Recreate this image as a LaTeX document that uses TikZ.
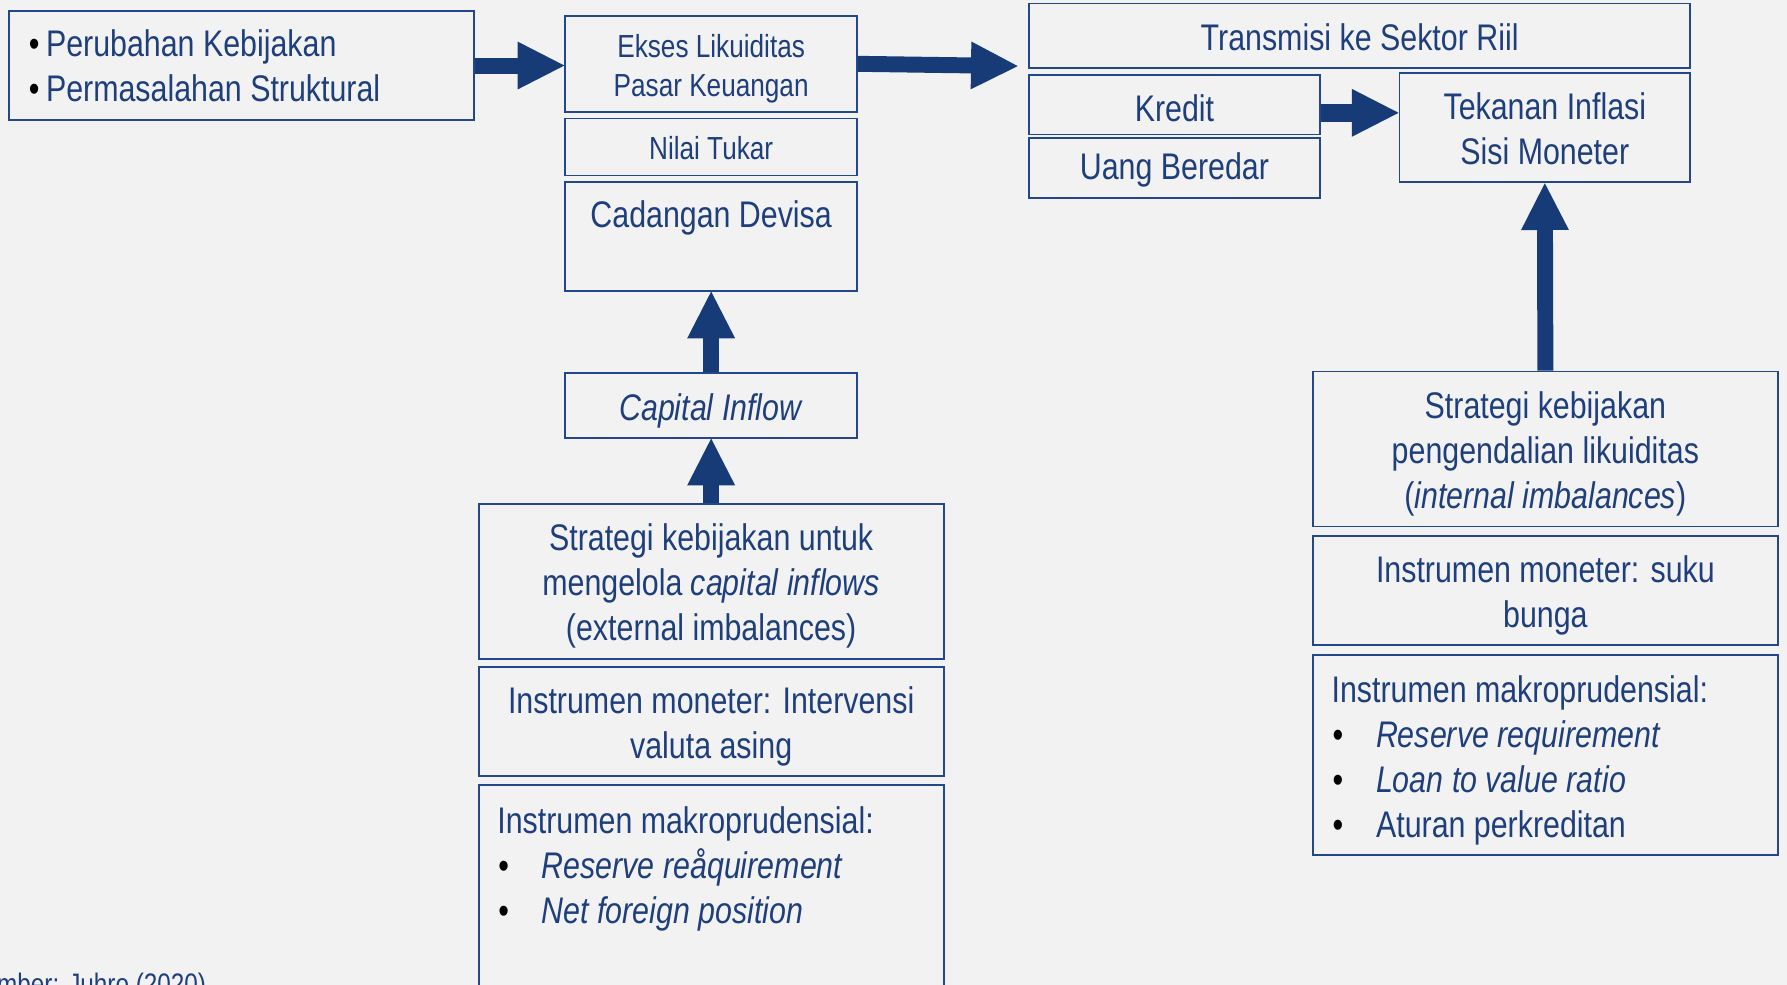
\documentclass[tikz,border=0pt]{standalone}
\usepackage{fontspec}
\setmainfont{Liberation Sans}[FakeStretch=0.82]
\usetikzlibrary{arrows.meta,calc}

\definecolor{bg}{HTML}{F2F2F2}
\definecolor{navy}{HTML}{173B77}
\definecolor{frame}{HTML}{22478A}
\definecolor{ink}{HTML}{1E3F7C}

% bullets: short one for the top-left box, wide one for the instrument lists
\newcommand{\dotA}{\makebox[15pt][l]{\textcolor{black}{\textbullet}}}
\newcommand{\dotB}{\makebox[39pt][l]{\hspace{1pt}\textcolor{black}{\textbullet}}}

\tikzset{
  panel/.style={draw=frame, line width=1.6pt, inner sep=0pt},
  big/.style={font=\fontsize{32.5}{39.5}\selectfont},
  small/.style={font=\fontsize{28}{34}\selectfont},
  label/.style={text=ink, inner sep=0pt, align=center},
  flow/.style={draw=navy, line width=14pt,
    -{Triangle[width=42pt,length=41pt,line width=0pt]}},
}

\begin{document}
\begin{tikzpicture}[x=1pt,y=-1pt]
  \useasboundingbox (0,0) rectangle (1568,864);
  \clip (0,0) rectangle (1568,864);
  \fill[bg] (0,0) rectangle (1568,864);

  % sources of the shock
  \node[panel, minimum width=408pt, minimum height=95pt] (A) at (212,57.5) {};
  \node[label, big, align=left, anchor=west] (At) at ([xshift=18pt]A.west)
    {\dotA Perubahan Kebijakan\\ \dotA Permasalahan Struktural};

  % financial market column
  \node[panel, minimum width=256pt, minimum height=84pt] (B1) at (624,56) {};
  \node[label, small] (B1t) at ([yshift=-4pt]B1.center) {Ekses Likuiditas\\ Pasar Keuangan};
  \node[panel, minimum width=256pt, minimum height=50pt] (B2) at (624,129) {};
  \node[label, small] (B2t) at ([yshift=-1pt]B2.center) {Nilai Tukar};
  \node[panel, minimum width=256pt, minimum height=95pt] (B3) at (624,207.5) {};
  \node[label, big] (B3t) at ([yshift=-32pt]B3.north) {Cadangan Devisa};

  % transmission to the real sector
  \node[panel, minimum width=580pt, minimum height=57pt] (C) at (1193,31.5) {};
  \node[label, big] (Ct) at ([yshift=-1pt]C.center) {Transmisi ke Sektor Riil};
  \node[panel, minimum width=255pt, minimum height=52pt] (D1) at (1030.5,92) {};
  \node[label, big] (D1t) at ([yshift=-3pt]D1.center) {Kredit};
  \node[panel, minimum width=255pt, minimum height=53pt] (D2) at (1030.5,147.5) {};
  \node[label, big] (D2t) at ([yshift=-2pt]D2.center) {Uang Beredar};
  \node[panel, minimum width=255pt, minimum height=96pt] (E) at (1355.5,112) {};
  \node[label, big] (Et) at ([yshift=-1pt]E.center) {Tekanan Inflasi\\ Sisi Moneter};

  % internal imbalances policy
  \node[panel, minimum width=408pt, minimum height=136pt] (F) at (1356,394) {};
  \node[label, big] (Ft) at ([yshift=-4.5pt]F.center)
    {Strategi kebijakan\\ pengendalian likuiditas\\ (\textit{internal imbalances})};
  \node[panel, minimum width=408pt, minimum height=96pt] (G) at (1356,518) {};
  \node[label, big] (Gt) at ([yshift=-4.5pt]G.center) {Instrumen moneter: suku\\ bunga};
  \node[panel, minimum width=408pt, minimum height=175pt] (H) at (1356,662.5) {};
  \node[label, big, align=left, anchor=north west] (Ht) at ([xshift=17pt,yshift=-18.5pt]H.north west)
    {Instrumen makroprudensial:\\
     \dotB\textit{Reserve requirement}\\
     \dotB\textit{Loan to value ratio}\\
     \dotB Aturan perkreditan};

  % external imbalances policy
  \node[panel, minimum width=256pt, minimum height=57pt] (I) at (624,355.5) {};
  \node[label, big] (It) at ([yshift=-5pt]I.center) {\textit{Capital Inflow}};
  \node[panel, minimum width=408pt, minimum height=136pt] (J) at (624,510) {};
  \node[label, big] (Jt) at ([yshift=-4pt]J.center)
    {Strategi kebijakan untuk\\ mengelola \textit{capital inflows}\\ (external imbalances)};
  \node[panel, minimum width=408pt, minimum height=96pt] (K) at (624,633) {};
  \node[label, big] (Kt) at ([yshift=-4pt]K.center) {Instrumen moneter: Intervensi\\ valuta asing};
  \node[panel, minimum width=408pt, minimum height=211pt] (L) at (624,794.5) {};
  \node[label, big, align=left, anchor=north west] (Lt) at ([xshift=17pt,yshift=-19pt]L.north west)
    {Instrumen makroprudensial:\\
     \dotB\textit{Reserve reåquirement}\\
     \dotB\textit{Net foreign position}};

  % source note
  \node[label, font=\fontsize{26}{30}\selectfont, anchor=base east] (src) at (181,873)
    {Sumber: Juhro (2020)};

  % connectors
  \coordinate (tipC) at (893,58);
  \draw[flow] (A.east) -- (A.east -| B1.west);
  \draw[flow] (B1.east) -- (tipC);
  \draw[flow, line width=16pt] ([yshift=-7pt]D1.east) -- ([yshift=-7pt]D1.east -| E.west);
  \draw[flow] (F.north) -- (E.south);
  \draw[flow] (I.north) -- (B3.south);
  \draw[flow] (J.north) -- (I.south);
\end{tikzpicture}
\end{document}
